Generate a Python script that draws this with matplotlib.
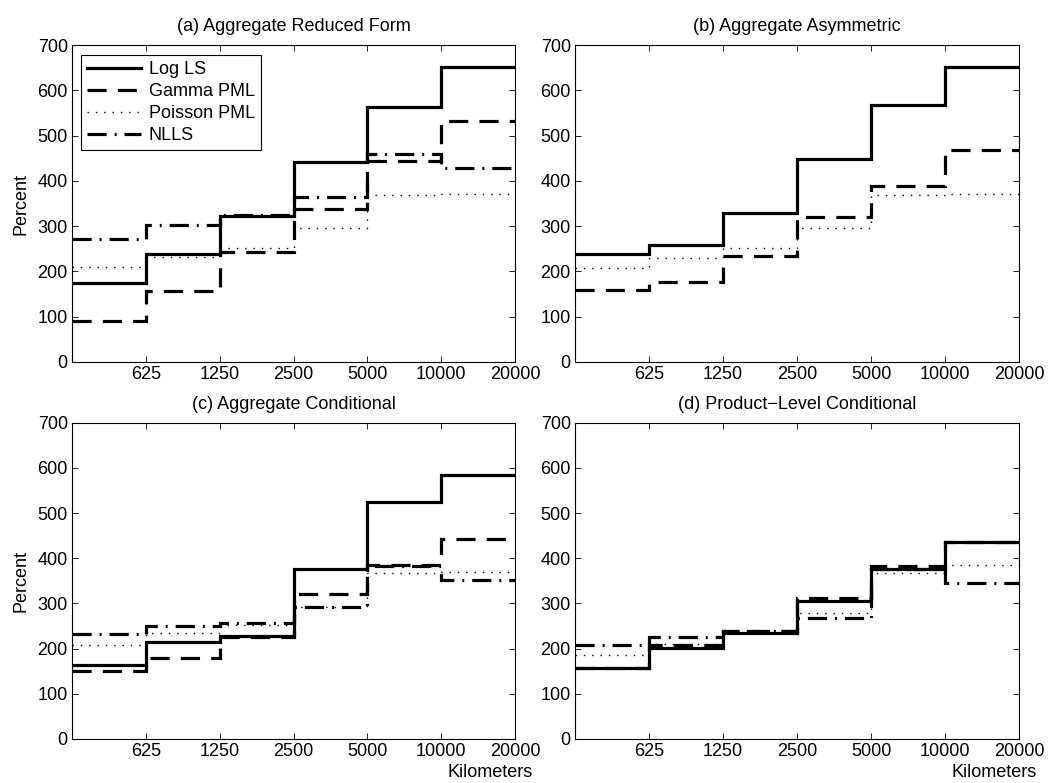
import numpy as np
import matplotlib.pyplot as plt

plt.rcParams['font.family'] = ['Liberation Sans', 'DejaVu Sans']

# distance bands (km); first band starts at 312.5
edges = [312.5, 625, 1250, 2500, 5000, 10000, 20000]
tick_km = [625, 1250, 2500, 5000, 10000, 20000]

titles = ['(a) Aggregate Reduced Form', '(b) Aggregate Asymmetric',
          '(c) Aggregate Conditional', '(d) Product\u2212Level Conditional']

log_ls = [
    [175, 239, 322, 441, 564, 652],
    [238, 258, 329, 448, 567, 651],
    [164, 215, 229, 377, 524, 584],
    [156, 202, 234, 306, 376, 435],
]
gamma_pml = [
    [91, 156, 242, 338, 444, 532],
    [160, 176, 234, 320, 388, 468],
    [150, 180, 226, 320, 384, 442],
    [158, 209, 238, 313, 382, 437],
]
poisson_pml = [
    [209, 232, 251, 295, 368, 372],
    [208, 230, 252, 295, 368, 371],
    [207, 234, 252, 291, 368, 370],
    [186, 210, 234, 279, 367, 386],
]
nlls = [
    [272, 302, 325, 365, 460, 428],
    None,
    [232, 251, 257, 291, 383, 352],
    [209, 226, 240, 268, 376, 345],
]

series = [
    ('Log LS', log_ls, dict(linestyle='-', linewidth=2.3)),
    ('Gamma PML', gamma_pml, dict(linestyle=(0, (6, 3.5)), linewidth=2.3)),
    ('Poisson PML', poisson_pml, dict(linestyle=(0, (1, 5)), linewidth=1.0)),
    ('NLLS', nlls, dict(linestyle=(0, (6, 2.5, 0.6, 2.5)), linewidth=2.3)),
]

fs = 13

fig = plt.figure(figsize=(10.55, 7.83), dpi=100)
boxes = [
    [0.0682, 0.5377, 0.4200, 0.4048],
    [0.5450, 0.5377, 0.4209, 0.4048],
    [0.0682, 0.0562, 0.4200, 0.4040],
    [0.5450, 0.0562, 0.4209, 0.4040],
]

for i, box in enumerate(boxes):
    ax = fig.add_axes(box)
    for name, data, style in series:
        vals = data[i]
        if vals is None:
            continue
        ax.stairs(vals, edges, color='black', baseline=None, label=name, **style)
    ax.set_xscale('log')
    ax.set_xlim(edges[0], edges[-1])
    ax.set_ylim(0, 700)
    ax.set_xticks(tick_km)
    ax.set_xticklabels([str(t) for t in tick_km])
    ax.xaxis.set_minor_locator(plt.NullLocator())
    ax.set_yticks(range(0, 701, 100))
    ax.tick_params(direction='in', top=True, right=True, labelsize=fs,
                   length=4, width=0.6, pad=3)
    for sp in ax.spines.values():
        sp.set_linewidth(0.8)
    ax.set_title(titles[i], fontsize=fs, pad=10)
    if i % 2 == 0:
        ax.set_ylabel('Percent', fontsize=fs, labelpad=6)
    if i >= 2:
        ax.text(1.04, -0.107, 'Kilometers', transform=ax.transAxes,
                ha='right', va='center', fontsize=fs)
    if i == 0:
        leg = ax.legend(loc='upper left', fontsize=fs, handlelength=3.0,
                        fancybox=False, edgecolor='black', framealpha=1,
                        borderpad=0.35, labelspacing=0.28, handletextpad=0.4,
                        borderaxespad=0, bbox_to_anchor=(0.02, 0.97))
        leg.get_frame().set_linewidth(0.8)

fig.savefig('out.png', dpi=100)
